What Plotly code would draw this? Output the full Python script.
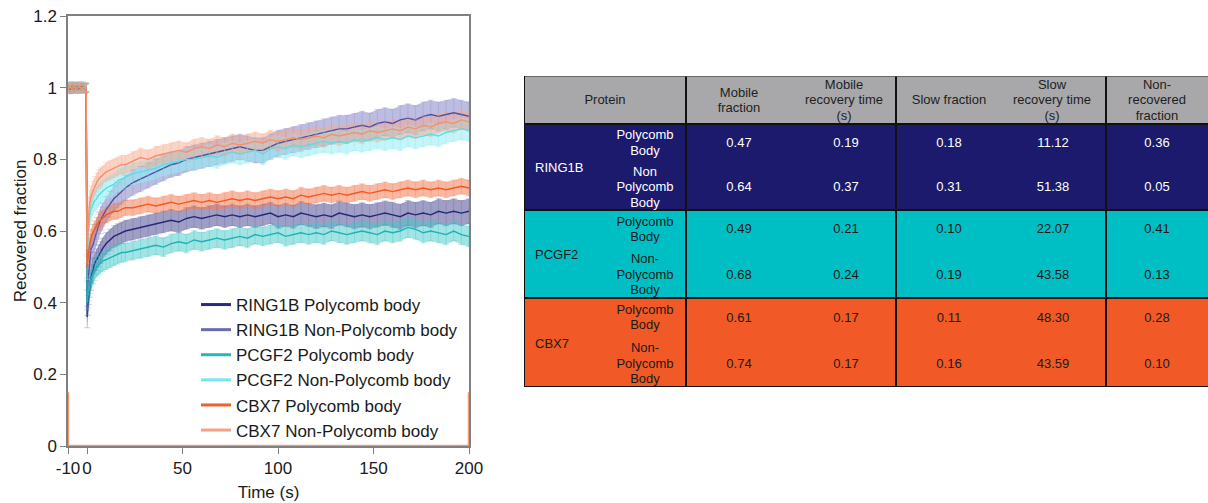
import numpy as np
import plotly.graph_objects as go

# ---------------- FRAP curve data ----------------
time_s = [-10, -9, -8, -7, -6, -5, -4, -3, -2, -1, -0.5,
          0, 0.5, 1, 1.5, 2, 3, 4, 5, 6, 7, 8, 10, 12, 14, 16, 18,
          20, 24, 28, 32, 36, 40, 44, 48, 52, 56,
          60, 64, 68, 72, 76, 80, 84, 88, 92, 96,
          100, 104, 108, 112, 116, 120, 124, 128, 132, 136,
          140, 144, 148, 152, 156, 160, 164, 168, 172, 176,
          180, 184, 188, 192, 196, 200]

ring1b_pb = [1.000, 0.995, 1.004, 0.998, 1.002, 0.996, 1.003, 0.999, 1.001, 0.997, 1.000,
             0.36, 0.40, 0.43, 0.45, 0.47, 0.49, 0.51, 0.52, 0.53, 0.54, 0.55, 0.565, 0.575, 0.585, 0.59, 0.595,
             0.600, 0.605, 0.610, 0.615, 0.620, 0.625, 0.630, 0.625, 0.635, 0.640,
             0.635, 0.640, 0.645, 0.640, 0.645, 0.640, 0.645, 0.640, 0.645, 0.650,
             0.640, 0.645, 0.640, 0.650, 0.645, 0.640, 0.645, 0.640, 0.650, 0.645,
             0.640, 0.645, 0.640, 0.645, 0.650, 0.645, 0.640, 0.650, 0.645, 0.650,
             0.645, 0.655, 0.650, 0.655, 0.650, 0.655]
ring1b_pb_err = [0.012, 0.012, 0.012, 0.012, 0.012, 0.012, 0.012, 0.012, 0.012, 0.012, 0.012,
                 0.030, 0.035, 0.035, 0.035, 0.035, 0.035, 0.030, 0.030, 0.030, 0.030, 0.030, 0.030, 0.030, 0.030, 0.030, 0.030,
                 0.030, 0.030, 0.030, 0.030, 0.030, 0.030, 0.030, 0.030, 0.030, 0.030,
                 0.030, 0.030, 0.030, 0.030, 0.030, 0.030, 0.030, 0.030, 0.030, 0.030,
                 0.032, 0.032, 0.032, 0.032, 0.032, 0.033, 0.033, 0.033, 0.033, 0.033,
                 0.034, 0.034, 0.034, 0.034, 0.034, 0.035, 0.035, 0.035, 0.035, 0.035,
                 0.035, 0.035, 0.035, 0.035, 0.035, 0.035]

ring1b_npb = [0.998, 1.003, 0.996, 1.001, 0.999, 1.004, 0.997, 1.002, 0.998, 1.001, 0.999,
              0.42, 0.46, 0.50, 0.53, 0.55, 0.56, 0.58, 0.60, 0.615, 0.63, 0.64, 0.66, 0.675, 0.69, 0.70, 0.71,
              0.720, 0.735, 0.745, 0.755, 0.765, 0.775, 0.785, 0.790, 0.800, 0.805,
              0.810, 0.815, 0.820, 0.825, 0.830, 0.835, 0.830, 0.825, 0.825, 0.835,
              0.845, 0.850, 0.855, 0.860, 0.865, 0.870, 0.875, 0.880, 0.885, 0.885,
              0.890, 0.895, 0.890, 0.900, 0.905, 0.900, 0.910, 0.915, 0.910, 0.920,
              0.925, 0.920, 0.925, 0.930, 0.925, 0.920]
ring1b_npb_err = [0.012, 0.012, 0.012, 0.012, 0.012, 0.012, 0.012, 0.012, 0.012, 0.012, 0.012,
                  0.040, 0.040, 0.040, 0.040, 0.040, 0.040, 0.038, 0.038, 0.038, 0.037, 0.037, 0.036, 0.036, 0.036, 0.035, 0.035,
                  0.035, 0.035, 0.035, 0.035, 0.035, 0.035, 0.035, 0.035, 0.035, 0.035,
                  0.035, 0.035, 0.035, 0.035, 0.035, 0.035, 0.035, 0.035, 0.035, 0.035,
                  0.036, 0.036, 0.036, 0.037, 0.037, 0.037, 0.038, 0.038, 0.038, 0.038,
                  0.038, 0.039, 0.039, 0.039, 0.039, 0.040, 0.040, 0.040, 0.040, 0.040,
                  0.040, 0.040, 0.040, 0.040, 0.040, 0.040]

pcgf2_pb = [1.002, 0.997, 1.001, 0.996, 1.003, 0.999, 1.000, 0.996, 1.004, 0.998, 1.001,
            0.40, 0.42, 0.44, 0.455, 0.465, 0.48, 0.49, 0.50, 0.505, 0.51, 0.515, 0.52, 0.525, 0.53, 0.535, 0.54,
            0.540, 0.545, 0.550, 0.555, 0.560, 0.555, 0.565, 0.570, 0.565, 0.575,
            0.570, 0.575, 0.580, 0.575, 0.580, 0.585, 0.580, 0.590, 0.585, 0.590,
            0.595, 0.585, 0.590, 0.595, 0.590, 0.595, 0.590, 0.600, 0.595, 0.590,
            0.595, 0.600, 0.595, 0.590, 0.600, 0.595, 0.600, 0.610, 0.605, 0.595,
            0.600, 0.595, 0.590, 0.600, 0.590, 0.585]
pcgf2_pb_err = [0.012, 0.012, 0.012, 0.012, 0.012, 0.012, 0.012, 0.012, 0.012, 0.012, 0.012,
                0.035, 0.035, 0.035, 0.030, 0.030, 0.030, 0.028, 0.028, 0.028, 0.028, 0.028, 0.027, 0.027, 0.027, 0.027, 0.027,
                0.026, 0.026, 0.026, 0.026, 0.026, 0.026, 0.026, 0.026, 0.026, 0.026,
                0.026, 0.026, 0.026, 0.026, 0.026, 0.026, 0.026, 0.026, 0.026, 0.026,
                0.027, 0.027, 0.027, 0.027, 0.027, 0.027, 0.027, 0.027, 0.027, 0.027,
                0.028, 0.028, 0.028, 0.028, 0.028, 0.028, 0.028, 0.028, 0.028, 0.028,
                0.028, 0.028, 0.028, 0.028, 0.028, 0.028]

pcgf2_npb = [0.999, 1.004, 0.998, 1.002, 0.997, 1.001, 0.999, 1.003, 0.996, 1.002, 1.000,
             0.50, 0.58, 0.63, 0.65, 0.66, 0.675, 0.685, 0.69, 0.70, 0.705, 0.71, 0.72, 0.725, 0.73, 0.74, 0.745,
             0.750, 0.760, 0.765, 0.770, 0.775, 0.785, 0.790, 0.795, 0.800, 0.800,
             0.805, 0.810, 0.805, 0.815, 0.820, 0.815, 0.820, 0.825, 0.815, 0.830,
             0.835, 0.830, 0.840, 0.835, 0.840, 0.845, 0.850, 0.845, 0.850, 0.845,
             0.855, 0.850, 0.855, 0.860, 0.855, 0.860, 0.855, 0.865, 0.860, 0.865,
             0.870, 0.865, 0.875, 0.880, 0.885, 0.880]
pcgf2_npb_err = [0.012, 0.012, 0.012, 0.012, 0.012, 0.012, 0.012, 0.012, 0.012, 0.012, 0.012,
                 0.035, 0.035, 0.033, 0.032, 0.031, 0.030, 0.030, 0.030, 0.030, 0.030, 0.030, 0.030, 0.030, 0.030, 0.030, 0.030,
                 0.030, 0.030, 0.030, 0.030, 0.030, 0.030, 0.030, 0.030, 0.030, 0.030,
                 0.030, 0.030, 0.030, 0.030, 0.030, 0.030, 0.030, 0.030, 0.030, 0.030,
                 0.030, 0.030, 0.030, 0.030, 0.030, 0.030, 0.030, 0.030, 0.030, 0.030,
                 0.030, 0.030, 0.030, 0.030, 0.030, 0.030, 0.030, 0.030, 0.030, 0.030,
                 0.030, 0.030, 0.030, 0.030, 0.030, 0.030]

cbx7_pb = [1.001, 0.996, 1.003, 0.999, 0.997, 1.002, 0.998, 1.004, 0.999, 1.000, 0.998,
           0.50, 0.53, 0.55, 0.565, 0.58, 0.595, 0.605, 0.615, 0.625, 0.63, 0.635, 0.645, 0.65, 0.655, 0.655, 0.66,
           0.665, 0.665, 0.670, 0.675, 0.670, 0.675, 0.680, 0.675, 0.680, 0.685,
           0.680, 0.685, 0.680, 0.685, 0.690, 0.685, 0.690, 0.685, 0.690, 0.695,
           0.690, 0.695, 0.690, 0.700, 0.695, 0.700, 0.705, 0.700, 0.705, 0.700,
           0.705, 0.710, 0.705, 0.710, 0.715, 0.710, 0.715, 0.720, 0.715, 0.720,
           0.715, 0.720, 0.715, 0.720, 0.725, 0.720]
cbx7_pb_err = [0.012, 0.012, 0.012, 0.012, 0.012, 0.012, 0.012, 0.012, 0.012, 0.012, 0.012,
               0.030, 0.030, 0.028, 0.026, 0.025, 0.024, 0.023, 0.022, 0.022, 0.022, 0.022, 0.022, 0.022, 0.022, 0.022, 0.022,
               0.022, 0.022, 0.022, 0.022, 0.022, 0.022, 0.022, 0.022, 0.022, 0.022,
               0.022, 0.022, 0.022, 0.022, 0.022, 0.022, 0.022, 0.022, 0.022, 0.022,
               0.022, 0.022, 0.022, 0.022, 0.022, 0.022, 0.022, 0.022, 0.022, 0.022,
               0.022, 0.022, 0.022, 0.022, 0.022, 0.022, 0.022, 0.022, 0.022, 0.022,
               0.022, 0.022, 0.022, 0.022, 0.022, 0.022]

cbx7_npb = [0.997, 1.002, 0.999, 1.004, 0.998, 1.000, 1.003, 0.997, 1.001, 0.999, 1.002,
            0.55, 0.62, 0.66, 0.68, 0.695, 0.71, 0.725, 0.735, 0.745, 0.75, 0.755, 0.765, 0.77, 0.775, 0.78, 0.785,
            0.785, 0.795, 0.805, 0.800, 0.810, 0.815, 0.820, 0.825, 0.820, 0.830,
            0.835, 0.830, 0.840, 0.835, 0.845, 0.840, 0.845, 0.850, 0.845, 0.855,
            0.850, 0.855, 0.860, 0.855, 0.860, 0.865, 0.860, 0.870, 0.865, 0.870,
            0.875, 0.870, 0.880, 0.875, 0.880, 0.885, 0.880, 0.890, 0.885, 0.895,
            0.890, 0.900, 0.905, 0.900, 0.910, 0.905]
cbx7_npb_err = [0.012, 0.012, 0.012, 0.012, 0.012, 0.012, 0.012, 0.012, 0.012, 0.012, 0.012,
                0.040, 0.040, 0.035, 0.032, 0.030, 0.028, 0.027, 0.026, 0.026, 0.026, 0.026, 0.026, 0.026, 0.026, 0.026, 0.026,
                0.026, 0.026, 0.026, 0.026, 0.026, 0.026, 0.026, 0.026, 0.026, 0.026,
                0.026, 0.026, 0.026, 0.026, 0.026, 0.026, 0.026, 0.026, 0.026, 0.026,
                0.026, 0.026, 0.026, 0.026, 0.026, 0.026, 0.026, 0.026, 0.026, 0.026,
                0.026, 0.026, 0.026, 0.026, 0.026, 0.026, 0.026, 0.026, 0.026, 0.026,
                0.026, 0.026, 0.026, 0.026, 0.026, 0.026]

# baseline artefact drawn by the original software along the x axis
artifact_t = [-10, -10, 200, 200]
artifact_v = [0.15, 0, 0, 0.15]

series_names = ["RING1B Polycomb body", "RING1B Non-Polycomb body",
                "PCGF2 Polycomb body", "PCGF2 Non-Polycomb body",
                "CBX7 Polycomb body", "CBX7 Non-Polycomb body"]
series_values = [ring1b_pb, ring1b_npb, pcgf2_pb, pcgf2_npb, cbx7_pb, cbx7_npb]
series_errors = [ring1b_pb_err, ring1b_npb_err, pcgf2_pb_err, pcgf2_npb_err, cbx7_pb_err, cbx7_npb_err]

x_ticks = [-10, 0, 50, 100, 150, 200]
x_tick_labels = ["-10", "0", "50", "100", "150", "200"]
y_ticks = [0, 0.2, 0.4, 0.6, 0.8, 1.0, 1.2]
y_tick_labels = ["0", "0.2", "0.4", "0.6", "0.8", "1", "1.2"]

# ---------------- table data ----------------
table_header = ["Protein", "Mobile<br>fraction", "Mobile<br>recovery time<br>(s)",
                "Slow fraction", "Slow<br>recovery time<br>(s)", "Non-<br>recovered<br>fraction"]
proteins = ["RING1B", "PCGF2", "CBX7"]
conditions = [["Polycomb<br>Body", "Non<br>Polycomb<br>Body"],
              ["Polycomb<br>Body", "Non-<br>Polycomb<br>Body"],
              ["Polycomb<br>Body", "Non-<br>Polycomb<br>Body"]]
mobile_fraction = [0.47, 0.64, 0.49, 0.68, 0.61, 0.74]
mobile_recovery_time = [0.19, 0.37, 0.21, 0.24, 0.17, 0.17]
slow_fraction = [0.18, 0.31, 0.10, 0.19, 0.11, 0.16]
slow_recovery_time = [11.12, 51.38, 22.07, 43.58, 48.30, 43.59]
non_recovered_fraction = [0.36, 0.05, 0.41, 0.13, 0.28, 0.10]

# ---------------- styles ----------------
line_colors = ["#26267a", "#4f4fa3", "#1db3b6", "#4fe2ea", "#f05a24", "#f39170"]
band_colors = ["rgba(95,95,160,0.60)", "rgba(135,135,200,0.55)", "rgba(70,200,200,0.50)",
               "rgba(150,236,242,0.55)", "rgba(244,125,85,0.55)", "rgba(247,170,140,0.50)"]
bar_colors = ["rgba(95,95,160,0.30)", "rgba(135,135,200,0.30)", "rgba(70,200,200,0.35)",
              "rgba(150,236,242,0.45)", "rgba(244,125,85,0.30)", "rgba(247,170,140,0.30)"]
legend_colors = ["#2b2b80", "#6a6aae", "#22b8ba", "#74e6ee", "#f0602a", "#f5a283"]
group_fills = ["#1b1a6c", "#00bfc4", "#f15a27"]
group_text = ["#ffffff", "#1a1a1a", "#1a1a1a"]
header_fill = "#a8a8aa"
FONT = "Liberation Sans, Arial, sans-serif"

fig = go.Figure()

t = np.array(time_s, dtype=float)
# bands
for vals, errs, bc in zip(series_values, series_errors, band_colors):
    v = np.array(vals); e = np.array(errs)
    up = v + e; lo = v - e
    fig.add_trace(go.Scatter(x=np.concatenate([t, t[::-1]]), y=np.concatenate([up, lo[::-1]]),
                             fill="toself", fillcolor=bc, line=dict(width=0), mode="lines",
                             hoverinfo="skip", showlegend=False))
# lines with error bars
for vals, errs, lc, ec in zip(series_values, series_errors, line_colors, bar_colors):
    fig.add_trace(go.Scatter(x=time_s, y=vals, mode="lines", line=dict(color=lc, width=1.4),
                             error_y=dict(type="data", array=errs, visible=True, color=ec,
                                          thickness=1, width=3),
                             showlegend=False))

fig.add_trace(go.Scatter(x=artifact_t, y=artifact_v, mode="lines", cliponaxis=False,
                         line=dict(color="#f39a78", width=2.5), showlegend=False, hoverinfo="skip"))

# legend entries
for name, lc in zip(series_names, legend_colors):
    fig.add_trace(go.Scatter(x=[None], y=[None], mode="lines", line=dict(color=lc, width=3), name=name))

# ---------------- table drawn on a second pair of axes (pixel-like units) ----------------
col_edges = [524, 686, 896, 1106, 1208]
row_edges = [76, 124, 210, 298, 387]
value_cols_x = [739, 846, 949, 1053, 1157]
header_x = [605, 739, 844, 949, 1052, 1157]
cond_x = 645
protein_x = 535
line_gap = 15.5

tx, ty, tt, tc, tp = [], [], [], [], []

def add_text(text, xc, yc, color, pos="middle center"):
    parts = text.split("<br>")
    n = len(parts)
    for i, p in enumerate(parts):
        tx.append(xc); ty.append(yc + (i - (n - 1) / 2) * line_gap)
        tt.append(p); tc.append(color); tp.append(pos)

hdr_y = (row_edges[0] + row_edges[1]) / 2 + 1
for h, hx in zip(table_header, header_x):
    add_text(h, hx, hdr_y, "#1e1e1e")

columns = [mobile_fraction, mobile_recovery_time, slow_fraction, slow_recovery_time, non_recovered_fraction]
for g, prot in enumerate(proteins):
    top, bot = row_edges[g + 1], row_edges[g + 2]
    h = bot - top
    add_text(prot, protein_x, (top + bot) / 2 + 2, group_text[g], "middle right")
    for s in range(2):
        yc = top + (0.23 if s == 0 else 0.745) * h
        add_text(conditions[g][s], cond_x, yc, group_text[g])
        idx = 2 * g + s
        for cx, col in zip(value_cols_x, columns):
            add_text(f"{col[idx]:.2f}", cx, yc, group_text[g])

fig.add_trace(go.Scatter(x=tx, y=ty, text=tt, mode="text", textposition=tp,
                         textfont=dict(family=FONT, size=13, color=tc),
                         xaxis="x2", yaxis="y2", showlegend=False, hoverinfo="skip", cliponaxis=False))

shapes = []
shapes.append(dict(type="rect", xref="x2", yref="y2", x0=col_edges[0], x1=col_edges[-1],
                   y0=row_edges[0], y1=row_edges[1], fillcolor=header_fill, line=dict(width=0), layer="below"))
for g in range(3):
    shapes.append(dict(type="rect", xref="x2", yref="y2", x0=col_edges[0], x1=col_edges[-1],
                       y0=row_edges[g + 1], y1=row_edges[g + 2], fillcolor=group_fills[g],
                       line=dict(width=0), layer="below"))
for cx in col_edges[1:-1]:
    shapes.append(dict(type="line", xref="x2", yref="y2", x0=cx, x1=cx, y0=row_edges[0], y1=row_edges[-1],
                       line=dict(color="#111111", width=2), layer="below"))
for ry in row_edges[1:-1]:
    shapes.append(dict(type="line", xref="x2", yref="y2", x0=col_edges[0], x1=col_edges[-1], y0=ry, y1=ry,
                       line=dict(color="#111111", width=2), layer="below"))
# outer border (top, left, bottom)
shapes.append(dict(type="line", xref="x2", yref="y2", x0=col_edges[0], x1=col_edges[-1],
                   y0=row_edges[0], y1=row_edges[0], line=dict(color="#555555", width=1.5), layer="below"))
shapes.append(dict(type="line", xref="x2", yref="y2", x0=col_edges[0], x1=col_edges[0],
                   y0=row_edges[0], y1=row_edges[-1], line=dict(color="#111111", width=2), layer="below"))
shapes.append(dict(type="line", xref="x2", yref="y2", x0=col_edges[0], x1=col_edges[-1],
                   y0=row_edges[-1], y1=row_edges[-1], line=dict(color="#111111", width=2), layer="below"))

axis_gray = "#808080"
fig.update_layout(
    width=1208, height=503, autosize=False,
    margin=dict(l=0, r=0, t=0, b=0, pad=0, autoexpand=False),
    paper_bgcolor="white", plot_bgcolor="white",
    font=dict(family=FONT, size=17, color="#1a1a1a"),
    legend=dict(x=196 / 1208, y=(503 - 287) / 503, xanchor="left", yanchor="top",
                bgcolor="rgba(0,0,0,0)", font=dict(family=FONT, size=17, color="#1a1a1a"),
                tracegroupgap=0, itemwidth=30),
    xaxis=dict(domain=[68 / 1208, 469 / 1208], range=[-10, 200], tickvals=x_ticks, ticktext=x_tick_labels,
               tickangle=0, ticks="outside", ticklen=6, tickcolor=axis_gray, showline=True, linecolor=axis_gray,
               linewidth=1.5, mirror=True, showgrid=False, zeroline=False, automargin=False,
               title=dict(text="Time (s)", standoff=9, font=dict(size=17)), anchor="y"),
    yaxis=dict(domain=[57 / 503, 487 / 503], range=[0, 1.2], tickvals=y_ticks, ticktext=y_tick_labels,
               ticks="outside", ticklen=6, tickcolor=axis_gray, showline=True, linecolor=axis_gray,
               linewidth=1.5, mirror=True, showgrid=False, zeroline=False, automargin=False,
               title=dict(text="Recovered fraction", standoff=2, font=dict(size=17)), anchor="x"),
    xaxis2=dict(domain=[524 / 1208, 1.0], range=[col_edges[0], col_edges[-1]], visible=False, anchor="y2"),
    yaxis2=dict(domain=[116 / 503, 427 / 503], range=[row_edges[-1], row_edges[0]], visible=False, anchor="x2"),
    shapes=shapes,
)

fig.write_html("out.html",
               post_script="document.body.style.margin='0';document.body.style.overflow='hidden';"
                           "document.documentElement.style.overflow='hidden';")
